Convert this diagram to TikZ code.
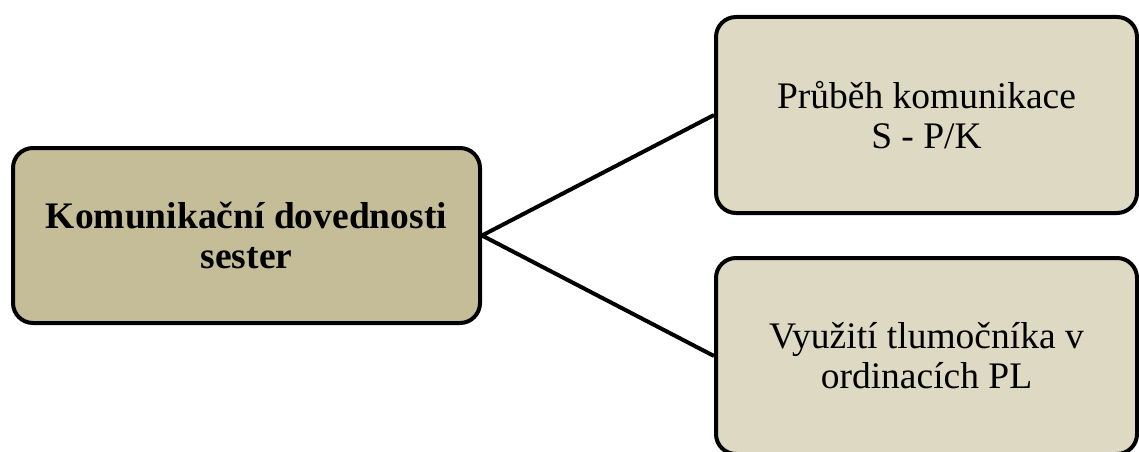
\documentclass[tikz,border=0pt]{standalone}
\usepackage{fontspec}
\setmainfont{Liberation Serif}
\definecolor{tandark}{HTML}{C4BD97}
\definecolor{tanlight}{HTML}{DDD9C3}
\tikzset{
    topic/.style={draw=black, line width=4pt, rounded corners=20pt, align=center,
        inner sep=0pt, font=\fontsize{37.5}{40}\selectfont},
}

\begin{document}
\begin{tikzpicture}[x=1pt, y=1pt]
\useasboundingbox (0,0) rectangle (1139,451);
\clip (0,0) rectangle (1139,451);

\node[topic, fill=tandark, minimum width=467pt, minimum height=175pt,
    font=\fontsize{37.5}{40}\selectfont\bfseries] (skills) at (246.5,215.5)
{Komunikační dovednosti\\sester};
\node[topic, fill=tanlight, minimum width=421pt, minimum height=196pt] (course)
at (926.5,336) {Průběh komunikace\\S - P/K};
\node[topic, fill=tanlight, minimum width=421pt, minimum height=196pt] (interp)
at (926.5,95) {Využití tlumočníka v\\ordinacích PL};

\draw[line width=4pt] (skills.east) -- (course.west);
\draw[line width=4pt] (skills.east) -- (interp.west);

\end{tikzpicture}
\end{document}
